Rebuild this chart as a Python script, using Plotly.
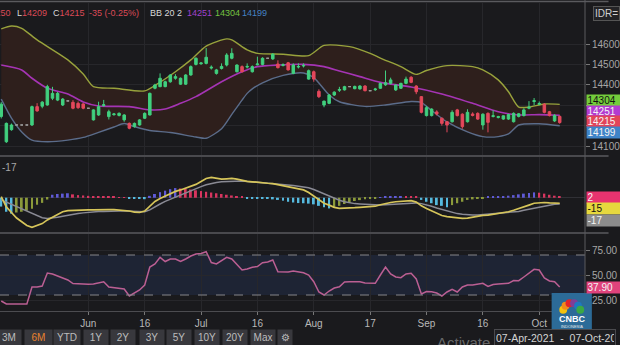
import plotly.graph_objects as go
import pandas as pd
import math

# ---------------- data ----------------
dates = [d.strftime("%Y-%m-%d") for d in pd.bdate_range("2021-05-07", "2021-10-07")]

opens = [14245,14121,14180,14203,14203,14203,14203,14293,14295,14301,14334,14325,14301,14321,14314,14309,14306,
         14285,14228,14252,14298,14244,14254,14250,14228,14211,14195,14203,14236,14252,14383,14391,14391,14415,14432,14403,14403,14448,14500,
         14503,14505,14482,14456,14480,14497,14530,14464,14489,14487,14464,14498,14500,14530,14527,14502,14495,14508,14456,14487,14492,14428,
         14464,14368,14301,14309,14350,14373,14375,14391,14381,14380,14394,14371,14376,14383,14400,14407,14375,14383,14407,14437,14394,14342,
         14249,14249,14267,14236,14219,14219,14277,14256,14219,14257,14260,14203,14260,14245,14240,14232,14232,14219,14245,14249,14285,14318,
         14305,14305,14268,14223,14245]
highs = [14315,14215,14210,14203,14203,14203,14298,14310,14320,14400,14390,14365,14335,14321,14325,14318,14310,
         14285,14280,14317,14326,14278,14262,14265,14256,14215,14215,14232,14265,14362,14405,14456,14420,14452,14452,14436,14452,14495,14535,
         14510,14580,14495,14478,14505,14555,14579,14500,14495,14505,14495,14538,14535,14530,14555,14520,14505,14512,14505,14505,14505,14475,
         14470,14378,14322,14355,14368,14390,14395,14391,14396,14398,14398,14371,14385,14410,14470,14435,14402,14410,14440,14442,14398,14345,
         14295,14285,14275,14240,14222,14275,14282,14260,14280,14265,14265,14260,14265,14275,14248,14250,14258,14265,14262,14285,14320,14335,
         14318,14310,14272,14256,14250]
lows = [14235,14115,14175,14203,14203,14203,14198,14268,14285,14298,14325,14320,14296,14321,14280,14282,14280,
        14285,14225,14248,14293,14230,14248,14245,14219,14182,14190,14200,14232,14250,14378,14388,14388,14410,14425,14400,14400,14445,14495,
        14498,14500,14475,14450,14475,14490,14525,14460,14460,14480,14460,14495,14495,14530,14522,14480,14490,14470,14452,14480,14485,14425,
        14415,14335,14290,14305,14345,14365,14372,14391,14378,14376,14368,14371,14370,14380,14395,14402,14370,14380,14403,14408,14354,14260,
        14245,14245,14250,14200,14167,14215,14245,14185,14215,14245,14228,14180,14167,14240,14235,14228,14228,14215,14240,14245,14280,14300,
        14300,14260,14245,14218,14209]
closes = [14305,14211,14203,14203,14203,14203,14293,14272,14315,14391,14358,14358,14330,14321,14285,14288,14285,
          14285,14277,14293,14302,14268,14257,14260,14252,14187,14211,14228,14260,14358,14399,14432,14415,14448,14440,14432,14448,14489,14530,
          14507,14535,14486,14473,14490,14546,14554,14497,14464,14490,14489,14502,14530,14530,14550,14484,14498,14473,14497,14490,14495,14469,
          14428,14342,14320,14350,14364,14377,14391,14391,14392,14394,14371,14371,14379,14407,14410,14424,14399,14407,14428,14412,14366,14265,
          14288,14281,14257,14211,14203,14265,14249,14195,14265,14250,14232,14256,14216,14248,14244,14248,14254,14260,14258,14277,14290,14322,
          14308,14265,14249,14250,14215]

bb_upper_dates = ["2021-05-07","2021-05-11","2021-05-13","2021-05-18","2021-05-26","2021-05-31","2021-06-02","2021-06-08",
                  "2021-06-16","2021-06-18","2021-06-24","2021-06-29","2021-07-02","2021-07-08","2021-07-09","2021-07-14",
                  "2021-07-16","2021-07-23","2021-07-30","2021-08-04","2021-08-11","2021-08-17","2021-08-19","2021-08-25",
                  "2021-08-30","2021-09-01","2021-09-07","2021-09-14","2021-09-16","2021-09-21","2021-09-23","2021-09-27",
                  "2021-09-29","2021-10-04","2021-10-07"]
bb_upper = [14674,14688,14677,14620,14522,14453,14391,14383,14370,14397,14464,14522,14590,14625,14620,14571,14554,14550,
            14543,14593,14587,14554,14531,14489,14451,14470,14494,14489,14473,14424,14366,14291,14291,14306,14304]

bb_mid_dates = ["2021-05-07","2021-05-13","2021-05-17","2021-05-20","2021-05-26","2021-05-31","2021-06-03","2021-06-11",
                "2021-06-17","2021-06-22","2021-06-25","2021-06-30","2021-07-07","2021-07-13","2021-07-16","2021-07-22",
                "2021-07-29","2021-08-04","2021-08-09","2021-08-13","2021-08-19","2021-08-27","2021-09-06","2021-09-14",
                "2021-09-21","2021-09-27","2021-10-01","2021-10-07"]
bb_mid = [14497,14473,14432,14383,14355,14316,14296,14293,14277,14281,14309,14342,14415,14464,14489,14497,14500,14489,
          14468,14440,14412,14389,14355,14309,14268,14252,14254,14251]

bb_lower_dates = ["2021-05-07","2021-05-11","2021-05-13","2021-05-17","2021-05-20","2021-05-26","2021-05-31","2021-06-03",
                  "2021-06-08","2021-06-10","2021-06-14","2021-06-17","2021-06-23","2021-06-30","2021-07-02","2021-07-07",
                  "2021-07-09","2021-07-13","2021-07-14","2021-07-15","2021-07-19","2021-07-23","2021-07-29","2021-08-02",
                  "2021-08-05","2021-08-09","2021-08-16","2021-08-20","2021-08-27","2021-08-31","2021-09-02","2021-09-07",
                  "2021-09-13","2021-09-16","2021-09-21","2021-09-23","2021-09-27","2021-10-01","2021-10-07"]
bb_lower = [14330,14237,14169,14129,14121,14129,14142,14167,14193,14210,14195,14176,14166,14144,14138,14185,14255,14325,
            14358,14380,14410,14446,14458,14435,14350,14317,14294,14301,14318,14313,14274,14218,14169,14146,14146,14159,
            14203,14209,14199]

macd = [3,-25,-40,-55,-65,-75,-80,-76,-70,-60,-52,-45,-38,-35,-34,-33,-33,
        -33,-33,-32,-31,-32,-32,-33,-34,-36,-39,-40,-36,-24,-10,-2,5,12,17,21,26,30,36,
        44,52,55,52,50,51,52,50,46,44,43,41,40,39,38,35,32,29,26,23,21,14,
        4,-6,-15,-20,-26,-29,-29,-28,-27,-26,-25,-24,-23,-19,-15,-13,-11,-10,-9,-8,-12,-22,
        -29,-36,-42,-48,-51,-53,-55,-56,-55,-52,-50,-48,-47,-45,-42,-40,-38,-34,-30,-25,-20,-15,
        -13,-13,-14,-14,-15]
signal = [-6,-12,-19,-25,-31,-37,-44,-50,-54,-56,-55,-53,-50,-47,-45,-43,-41,
          -39,-38,-37,-37,-36,-36,-36,-36,-37,-38,-39,-38,-33,-24,-17,-10,-4,2,7,13,19,25,
          30,35,39,41,43,44,45,45,45,44,43,42,41,40,39,38,36,35,33,31,30,27,
          22,16,10,4,-2,-7,-11,-14,-16,-17,-18,-19,-20,-20,-19,-18,-17,-16,-15,-14,-14,-16,
          -19,-23,-28,-32,-36,-40,-43,-45,-47,-47,-47,-46,-45,-44,-43,-42,-41,-39,-37,-34,-31,-28,
          -25,-22,-20,-18,-17]
hist = [-24,-38,-43,-40,-38,-35,-30,-19,-14,-5,8,10,11,12,9,7,6,
        5,4,3.5,3,2.5,2,1.5,1,-1,-2,-3,-4,5,10,15,19,23,26,25,24,22,20,
        18,16,14,12,10,8,6,4,3,-1,-1.2,-1.5,-2,-3,-4.5,-6,-8,-11,-13,-14.5,-15,-16,
        -18,-22,-26,-29,-26,-22,-17,-13,-9,-6.5,-4.5,-3.5,-2.5,1,2,3,3.5,4,3.5,3,2,-6,
        -11,-15,-20,-22,-26,-20,-15,-11,-6,-4.5,-3.6,-2.7,2,3,3.6,4.5,5.4,7,9,11,12.6,14.4,
        13.5,11,8,5.4,2]
rsi = [24,21,21,21,21,21,38,38,39,52,51,49,47,45,41.5,41,40.7,
       40.7,41,42,43.3,38,37.5,36.5,36,29,32,35,40,58,61,67.7,63.5,66,66,63.5,66,69,71,
       71.5,73.3,62.5,61,64,67.7,66,60,55,56,57.7,58.5,62.3,63,65,53.3,53.5,53,54,53,52.3,50,
       43.3,33,30,34,37,38.3,43,43.3,43.3,43.3,42,41.7,41.7,50,58,51,48,47.3,51,51.7,46,31,
       33.5,33.3,32,29,33,35.7,33,38,40,40,40.5,41.7,38.5,40.5,41,41,41.7,44.5,44.3,48,52,55.7,
       55,47,44,43.3,37.9]

tick_dates = ["2021-06-01","2021-06-16","2021-07-01","2021-07-16","2021-08-02","2021-08-17","2021-09-01","2021-09-16","2021-10-01"]
tick_labels = ["Jun","16","Jul","16","Aug","17","Sep","16","Oct"]
price_ticks = [14100, 14200, 14300, 14400, 14500, 14600]
rsi_ticks = [25, 50, 75]
buttons = ["3M", "6M", "YTD", "1Y", "2Y", "3Y", "5Y", "10Y", "20Y", "Max", "\u2699"]

# ---------------- styling ----------------
BG = "#1a1a1d"
GRID = "#27272b"
SEP = "#5a5a5e"
UP = "#41d07f"
DOWN = "#e4485c"
FONT = "Liberation Sans, Arial, sans-serif"

W, H = 620, 345
MR, MB = 24, 34
PW, PH = W - MR, H - MB


def fx(p):
    return p / PW


def fy(p):
    return (PH - p) / PH


pos = {d: i for i, d in enumerate(dates)}
X = list(range(len(dates)))
XR = [pos["2021-06-01"] - 90 / 5.22, pos["2021-06-01"] + 506 / 5.22]
tick_pos = [pos[d] for d in tick_dates]

fig = go.Figure()

# Bollinger bands (base subplot)
fig.add_trace(go.Scatter(x=[pos[d] for d in bb_upper_dates], y=bb_upper, mode="lines",
                         line=dict(color="#98a23c", width=1.4, shape="spline", smoothing=0.7),
                         xaxis="x", yaxis="y", hoverinfo="skip"))
fig.add_trace(go.Scatter(x=[pos[d] for d in bb_lower_dates], y=bb_lower, mode="lines",
                         line=dict(color="#5b6c8a", width=1.4, shape="spline", smoothing=0.7),
                         fill="tonexty", fillcolor="#2e1f1c",
                         xaxis="x", yaxis="y", hoverinfo="skip"))
fig.add_trace(go.Scatter(x=[pos[d] for d in bb_mid_dates], y=bb_mid, mode="lines",
                         line=dict(color="#a534b4", width=1.6, shape="spline", smoothing=0.7),
                         xaxis="x", yaxis="y", hoverinfo="skip"))

# Candles (overlay subplot so they sit above the band fill)
flat = [i for i in X if opens[i] == highs[i] == lows[i] == closes[i]]
live = [i for i in X if i not in flat]
fig.add_trace(go.Candlestick(x=live, open=[opens[i] for i in live], high=[highs[i] for i in live],
                             low=[lows[i] for i in live], close=[closes[i] for i in live],
                             increasing=dict(line=dict(color=UP, width=1), fillcolor=UP),
                             decreasing=dict(line=dict(color=DOWN, width=1), fillcolor=DOWN),
                             xaxis="x2", yaxis="y2", hoverinfo="skip"))
fig.add_trace(go.Candlestick(x=flat, open=[opens[i] for i in flat], high=[highs[i] for i in flat],
                             low=[lows[i] for i in flat], close=[closes[i] for i in flat],
                             increasing=dict(line=dict(color="#9a9a9a", width=1), fillcolor="#9a9a9a"),
                             decreasing=dict(line=dict(color="#9a9a9a", width=1), fillcolor="#9a9a9a"),
                             xaxis="x2", yaxis="y2", hoverinfo="skip"))

# MACD
hcol = []
prev = 0
for v in hist:
    if v >= 0:
        hcol.append("#5f5ad6" if v >= prev else "#d8355f")
    else:
        hcol.append("#55b9de" if v < prev else "#8b9a3a")
    prev = v
fig.add_trace(go.Bar(x=X, y=hist, marker=dict(color=hcol, line=dict(width=0)), width=0.38,
                     xaxis="x3", yaxis="y3", hoverinfo="skip"))
fig.add_trace(go.Scatter(x=X, y=signal, mode="lines", line=dict(color="#8a8a94", width=1.5),
                         xaxis="x3", yaxis="y3", hoverinfo="skip"))
fig.add_trace(go.Scatter(x=X, y=macd, mode="lines", line=dict(color="#d6c55a", width=1.7),
                         xaxis="x3", yaxis="y3", hoverinfo="skip"))

# RSI
fig.add_trace(go.Scatter(x=X, y=rsi, mode="lines", line=dict(color="#bb5f93", width=1.5),
                         xaxis="x4", yaxis="y4", hoverinfo="skip"))

xbase = dict(range=XR, tickvals=tick_pos, showticklabels=False, showgrid=True, gridcolor=GRID,
             gridwidth=1, zeroline=False, ticks="", fixedrange=True, domain=[0, 1])
ytick = dict(size=10, color="#a6a6a6", family=FONT)
PR = [14600 - (155 - 44) / 0.204, 14600 + (44 - 3) / 0.204]

fig.update_layout(
    width=W, height=H, margin=dict(l=0, r=MR, t=0, b=MB),
    paper_bgcolor=BG, plot_bgcolor=BG, showlegend=False, hovermode=False,
    font=dict(family=FONT, color="#c8c8c8"),
    xaxis=dict(xbase, anchor="y", rangeslider=dict(visible=False)),
    xaxis2=dict(range=XR, overlaying="x", anchor="y2", visible=False, fixedrange=True,
                rangeslider=dict(visible=False)),
    xaxis3=dict(xbase, anchor="y3"),
    xaxis4=dict(xbase, anchor="y4", showticklabels=True, ticktext=tick_labels, ticks="outside",
                ticklen=3, tickcolor="#777", showline=True, linecolor="#4c4c50",
                tickfont=dict(size=10, color="#b8b8b8", family=FONT)),
    yaxis=dict(domain=[fy(155), fy(3)], range=PR, anchor="x", side="right", tickvals=price_ticks,
               ticktext=[str(v) for v in price_ticks],
               showgrid=True, gridcolor=GRID, zeroline=False, ticks="outside", ticklen=4,
               tickcolor="#777", tickfont=ytick, fixedrange=True),
    yaxis2=dict(range=PR, overlaying="y", anchor="x2", visible=False, fixedrange=True),
    yaxis3=dict(domain=[fy(232), fy(157)], range=[(197.7 - 232) / 0.37, (197.7 - 157) / 0.37],
                anchor="x3", side="right", showticklabels=False, showgrid=False,
                zeroline=True, zerolinecolor="#303035", zerolinewidth=1, fixedrange=True),
    yaxis4=dict(domain=[0, fy(234)], range=[325 - 311, 325 - 234], anchor="x4", side="right",
                tickvals=rsi_ticks, ticktext=["%.2f" % v for v in rsi_ticks], showgrid=True,
                gridcolor=GRID, zeroline=False, ticks="outside", ticklen=4, tickcolor="#777",
                tickfont=ytick, fixedrange=True),
)

shapes = []
# RSI 30-70 band and dashed levels
shapes.append(dict(type="rect", xref="paper", yref="y4", x0=0, x1=1, y0=30, y1=70,
                   fillcolor="#1e2434", line=dict(width=0), layer="below"))
for lv in (30, 70):
    shapes.append(dict(type="line", xref="paper", yref="y4", x0=0, x1=1, y0=lv, y1=lv,
                       line=dict(color="#85858a", width=1, dash="dash")))
# separators
for yy in (1.5, 156, 233):
    shapes.append(dict(type="line", xref="paper", yref="paper", x0=0, x1=fx(W), y0=fy(yy), y1=fy(yy),
                       line=dict(color=SEP, width=1.5)))
shapes.append(dict(type="line", xref="paper", yref="paper", x0=1, x1=1, y0=0, y1=1,
                   line=dict(color=SEP, width=1)))
# CNBC logo block
shapes.append(dict(type="rect", xref="paper", yref="paper", x0=fx(562), x1=fx(603), y0=fy(330), y1=fy(293),
                   fillcolor="#2c6b98", line=dict(width=0), layer="above"))
petals = ["#f4c20d", "#f08a1c", "#e2232a", "#7e3f98", "#1f78c1", "#3aa845"]
for k, c in enumerate(petals):
    ang = math.radians(165 - k * 30)
    cx, cy = 582.5 + 9 * math.cos(ang), 312 - 9 * math.sin(ang)
    shapes.append(dict(type="circle", xref="paper", yref="paper", x0=fx(cx - 4), x1=fx(cx + 4),
                       y0=fy(cy + 4), y1=fy(cy - 4), fillcolor=c, line=dict(width=0), layer="above"))

ann = []


def text(t, x, y, color="#c8c8c8", size=9, xanchor="left", **kw):
    d = dict(text=t, x=fx(x), y=fy(y), xref="paper", yref="paper", showarrow=False,
             xanchor=xanchor, yanchor="middle", font=dict(size=size, color=color, family=FONT))
    d.update(kw)
    ann.append(d)


RED = "#dc4a57"
WH = "#d8d8d8"
chg = closes[-1] - closes[-2]
pct = chg / closes[-2] * 100
text("<span style='color:%s'>H</span>%d" % (WH, highs[-1]), 13.5, 13, RED, xanchor="right")
text("<span style='color:%s'>L</span>%d" % (WH, lows[-1]), 15, 13, RED)
text("<span style='color:%s'>C</span>%d" % (WH, closes[-1]), 52, 13, RED)
text("%d (%.2f%%)" % (chg, pct), 89, 13, RED)
text("BB 20 2", 151, 13, WH)
text("%d" % bb_mid[-1], 188, 13, "#a142cc")
text("%d" % bb_upper[-1], 217, 13, "#74c240")
text("%d" % bb_lower[-1], 245, 13, "#4582c4")
text("IDR=", 604, 13, "#cfcfcf", size=10, bgcolor="#232326", bordercolor="#555", borderwidth=1)

text("<span style='color:#d6c55a'>%d</span>  %d" % (macd[-1], signal[-1]), 19.5, 167, "#a8a8a8",
     xanchor="right", size=10)

# right-side value boxes
boxes = [("%d" % bb_upper[-1], 100, "#74cc3c", "#111"),
         ("%d" % bb_mid[-1], 111, "#b23bd2", "#f4f4f4"),
         ("%d" % closes[-1], 122, "#e2455a", "#f4f4f4"),
         ("%d" % bb_lower[-1], 133, "#3f84c8", "#f4f4f4"),
         ("%g" % hist[-1], 197, "#e8336f", "#f4f4f4"),
         ("%d" % macd[-1], 209, "#e6d83e", "#111"),
         ("%d" % signal[-1], 220, "#8c8c8c", "#f4f4f4"),
         ("%.2f" % rsi[-1], 287, "#e0437c", "#f4f4f4")]
for t, yy, bg, fg in boxes:
    text(t, 597, yy, fg, size=10, bgcolor=bg, width=34, height=10, align="left", borderpad=0.5)

# bottom bar
bx = [(-3, 22), (25, 53), (55, 82), (85, 110), (113, 138), (142, 167), (170, 195), (198, 223),
      (227, 252), (255, 280), (283, 298)]
for lab, (a, b) in zip(buttons, bx):
    text(lab, (a + b) / 2, 337.5, "#e8822e" if lab == "6M" else "#bdbdbd", size=10, xanchor="center",
         bgcolor="#38383d", width=b - a - 2, height=14, borderpad=0.5)
text("Activate Windows", 443, 342, "rgba(170,170,170,0.55)", size=15)
text("07-Apr-2021\u00a0\u00a0-\u00a0\u00a007-Oct-2021", 503, 337.5, "#d4d4d4", size=10.5,
     bgcolor="#1f1f22", bordercolor="#4a4a4e", borderwidth=1, width=118, height=14, align="left")
text("<b>CNBC</b>", 582.5, 319, "#ffffff", size=9, xanchor="center")
text("INDONESIA", 582.5, 326, "#e8e8e8", size=4, xanchor="center")

fig.update_layout(shapes=shapes, annotations=ann)
fig.write_html("out.html")
